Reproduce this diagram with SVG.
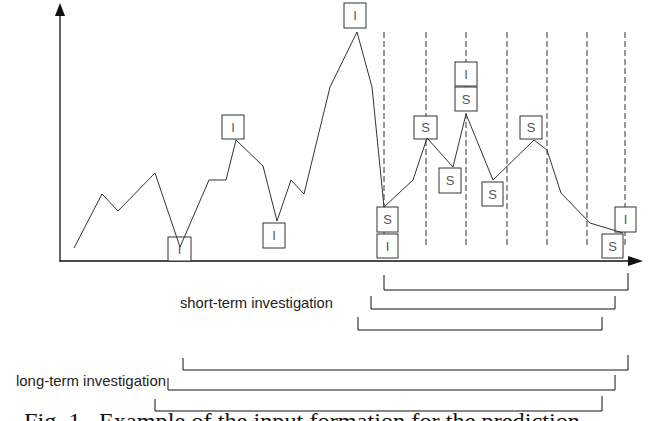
<svg xmlns="http://www.w3.org/2000/svg" width="658" height="421" viewBox="0 0 658 421">
<style>
.ax{stroke:#111;stroke-width:1.3;fill:none}
.ser{stroke:#333;stroke-width:1;fill:none}
.dash{stroke:#333;stroke-width:1;stroke-dasharray:6 3;fill:none}
.box rect{fill:#fff;stroke:#333;stroke-width:1}
.box text{font-family:"Liberation Sans",Arial,sans-serif;font-size:13px;fill:#555;text-anchor:middle}
.br{stroke:#111;stroke-width:1;fill:none}
.lbl{font-family:"Liberation Sans",Arial,sans-serif;font-size:14.5px;fill:#222}
.cap{font-family:"Liberation Serif","Times New Roman",serif;font-size:24px;fill:#111}
</style>
<rect width="658" height="421" fill="#fff"/>
<g id="axes">
<line class="ax" x1="60" y1="262" x2="60" y2="14"/>
<polygon points="60,3 55,16 65,16" fill="#111"/>
<line class="ax" x1="60" y1="261" x2="630" y2="261"/>
<polygon points="643,261 628,256 628,266" fill="#111"/>
</g>
<g id="grid">
<line class="dash" x1="384" y1="32" x2="384" y2="248"/>
<line class="dash" x1="426" y1="32" x2="426" y2="248"/>
<line class="dash" x1="466" y1="32" x2="466" y2="248"/>
<line class="dash" x1="507" y1="32" x2="507" y2="248"/>
<line class="dash" x1="547" y1="32" x2="547" y2="248"/>
<line class="dash" x1="587" y1="32" x2="587" y2="248"/>
<line class="dash" x1="625" y1="32" x2="625" y2="248"/>
</g>
<g id="nodes">
<g id="n1" class="box"><rect x="168" y="237" width="23" height="24"/><text x="179.5" y="254">I</text></g>
<g id="n2" class="box"><rect x="222" y="115" width="22" height="24"/><text x="233" y="132">I</text></g>
<g id="n3" class="box"><rect x="263" y="223" width="22" height="25"/><text x="274" y="240">I</text></g>
<g id="n4" class="box"><rect x="344" y="3" width="22" height="25"/><text x="355" y="20">I</text></g>
<g id="n5" class="box"><rect x="377" y="207" width="21" height="25"/><text x="387.5" y="224">S</text></g>
<g id="n6" class="box"><rect x="377" y="234" width="21" height="24"/><text x="387.5" y="251">I</text></g>
<g id="n7" class="box"><rect x="414" y="116" width="23" height="23"/><text x="425.5" y="132">S</text></g>
<g id="n8" class="box"><rect x="439" y="168" width="22" height="25"/><text x="450" y="185">S</text></g>
<g id="n9" class="box"><rect x="455" y="62" width="22" height="24"/><text x="466" y="79">I</text></g>
<g id="n10" class="box"><rect x="455" y="87" width="22" height="24"/><text x="466" y="104">S</text></g>
<g id="n11" class="box"><rect x="482" y="182" width="21" height="24"/><text x="492.5" y="199">S</text></g>
<g id="n12" class="box"><rect x="520" y="116" width="22" height="23"/><text x="531" y="132">S</text></g>
<g id="n13" class="box"><rect x="615" y="207" width="21" height="25"/><text x="625.5" y="224">I</text></g>
<g id="n14" class="box"><rect x="602" y="234" width="21" height="24"/><text x="612.5" y="251">S</text></g>
</g>
<g id="connectors">
<polyline class="ser" points="74,248 102,194 118,211 155,173 180,247 209,180 226,180 236,140 263,166 277,221 291,180 304,194 330,87 357,32 372,87 384,207 413,180 427,138 453,167 466,114 493,180 534,140 547,150 561,193 590,223 623,233"/>
<polyline class="br" points="384,275 384,290 628,290 628,273"/>
<polyline class="br" points="371,296 371,309 615,309 615,296"/>
<polyline class="br" points="358,317 358,330 602,330 602,317"/>
<polyline class="br" points="183,358 183,370 628,370 628,355"/>
<polyline class="br" points="168,378 168,390 615,390 615,375"/>
<polyline class="br" points="155,399 155,411 602,411 602,396"/>
</g>
<text class="lbl" x="180" y="308" textLength="153" lengthAdjust="spacingAndGlyphs">short-term investigation</text>
<text class="lbl" x="16" y="386" textLength="150" lengthAdjust="spacingAndGlyphs">long-term investigation</text>
<text class="cap" x="24" y="429" xml:space="preserve" textLength="556" lengthAdjust="spacingAndGlyphs">Fig. 1.  Example of the input formation for the prediction</text>
</svg>
